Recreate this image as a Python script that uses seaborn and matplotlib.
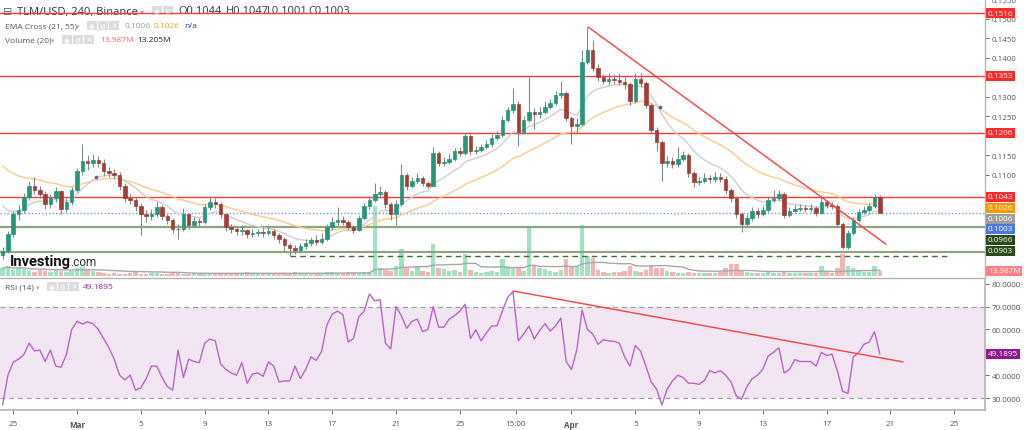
import numpy as np
import pandas as pd
import matplotlib
matplotlib.use("Agg")
import matplotlib.pyplot as plt
from matplotlib.patches import Rectangle
import seaborn as sns

W, H = 1024, 431

# ── Data: TLM/USD, resampled to 8h candles ───────────────────────────────────
first_open = 0.0895
closes = [
    0.0905, 0.0948, 0.0999, 0.1010, 0.1043, 0.1070, 0.1060, 0.1050, 0.1025, 0.1040,
    0.1058, 0.1012, 0.1030, 0.1060, 0.1110, 0.1135, 0.1130, 0.1138, 0.1130, 0.1110,
    0.1105, 0.1100, 0.1070, 0.1040, 0.1035, 0.1020, 0.0999, 0.0994, 0.1000, 0.1017,
    0.0995, 0.0985, 0.0962, 0.0960, 0.0999, 0.0970, 0.0981, 0.0978, 0.1017, 0.1030,
    0.1025, 0.0999, 0.0965, 0.0960, 0.0955, 0.0958, 0.0948, 0.0950, 0.0952, 0.0950,
    0.0955, 0.0945, 0.0935, 0.0920, 0.0912, 0.0908, 0.0918, 0.0925, 0.0932, 0.0928,
    0.0935, 0.0965, 0.0980, 0.0985, 0.0978, 0.0965, 0.0958, 0.0990, 0.1020, 0.1035,
    0.1050, 0.1055, 0.1025, 0.1000, 0.1025, 0.1100, 0.1070, 0.1085, 0.1092, 0.1078,
    0.1072, 0.1155, 0.1130, 0.1132, 0.1140, 0.1160, 0.1155, 0.1200, 0.1160, 0.1163,
    0.1170, 0.1178, 0.1195, 0.1202, 0.1240, 0.1265, 0.1282, 0.1210, 0.1240, 0.1262,
    0.1255, 0.1262, 0.1275, 0.1285, 0.1305, 0.1310, 0.1245, 0.1225, 0.1230, 0.1390,
    0.1420, 0.1375, 0.1350, 0.1340, 0.1345, 0.1342, 0.1338, 0.1332, 0.1290, 0.1345,
    0.1335, 0.1280, 0.1215, 0.1185, 0.1130, 0.1135, 0.1128, 0.1140, 0.1150, 0.1105,
    0.1082, 0.1085, 0.1092, 0.1088, 0.1095, 0.1090, 0.1060, 0.1040, 0.1000, 0.0975,
    0.0990, 0.1008, 0.1000, 0.1010, 0.1035, 0.1040, 0.1050, 0.0998, 0.1008, 0.1012,
    0.1016, 0.1013, 0.1015, 0.1002, 0.1030, 0.1022, 0.1020, 0.0975, 0.0915, 0.0950,
    0.0985, 0.1005, 0.1010, 0.1020, 0.1044, 0.1003,
]
highs = [
    0.0915, 0.0955, 0.1008, 0.1022, 0.1052, 0.1085, 0.1095, 0.1072, 0.1058, 0.1050,
    0.1068, 0.1062, 0.1040, 0.1068, 0.1118, 0.1180, 0.1150, 0.1152, 0.1148, 0.1140,
    0.1120, 0.1115, 0.1108, 0.1078, 0.1050, 0.1043, 0.1028, 0.1010, 0.1012, 0.1030,
    0.1022, 0.1000, 0.0990, 0.0975, 0.1015, 0.1002, 0.0992, 0.0990, 0.1025, 0.1045,
    0.1040, 0.1030, 0.1002, 0.0975, 0.0968, 0.0970, 0.0962, 0.0960, 0.0962, 0.0965,
    0.0968, 0.0960, 0.0950, 0.0940, 0.0925, 0.0920, 0.0925, 0.0935, 0.0940, 0.0945,
    0.0950, 0.0975, 0.0992, 0.1018, 0.0995, 0.0985, 0.0970, 0.0998, 0.1028, 0.1045,
    0.1078, 0.1070, 0.1060, 0.1030, 0.1035, 0.1128, 0.1105, 0.1095, 0.1105, 0.1098,
    0.1085, 0.1172, 0.1160, 0.1145, 0.1152, 0.1168, 0.1170, 0.1208, 0.1205, 0.1175,
    0.1180, 0.1188, 0.1205, 0.1212, 0.1250, 0.1275, 0.1322, 0.1290, 0.1250, 0.1350,
    0.1272, 0.1275, 0.1288, 0.1295, 0.1315, 0.1340, 0.1315, 0.1250, 0.1245, 0.1420,
    0.1479, 0.1445, 0.1385, 0.1358, 0.1360, 0.1358, 0.1362, 0.1350, 0.1338, 0.1360,
    0.1362, 0.1340, 0.1285, 0.1222, 0.1190, 0.1148, 0.1145, 0.1170, 0.1162, 0.1155,
    0.1110, 0.1095, 0.1105, 0.1100, 0.1108, 0.1105, 0.1098, 0.1065, 0.1045, 0.1005,
    0.1000, 0.1018, 0.1015, 0.1020, 0.1042, 0.1062, 0.1062, 0.1055, 0.1018, 0.1022,
    0.1025, 0.1022, 0.1025, 0.1020, 0.1045, 0.1035, 0.1030, 0.1025, 0.0980, 0.0958,
    0.0992, 0.1012, 0.1020, 0.1028, 0.1050, 0.1047,
]
lows = [
    0.0884, 0.0900, 0.0940, 0.0985, 0.1002, 0.1035, 0.1050, 0.1040, 0.1012, 0.1015,
    0.1030, 0.1000, 0.1005, 0.1022, 0.1055, 0.1100, 0.1112, 0.1120, 0.1120, 0.1098,
    0.1095, 0.1088, 0.1060, 0.1030, 0.1025, 0.1008, 0.0945, 0.0978, 0.0985, 0.0992,
    0.0985, 0.0975, 0.0950, 0.0936, 0.0955, 0.0960, 0.0965, 0.0968, 0.0975, 0.1010,
    0.1015, 0.0990, 0.0955, 0.0950, 0.0945, 0.0945, 0.0938, 0.0940, 0.0942, 0.0940,
    0.0945, 0.0935, 0.0925, 0.0905, 0.0892, 0.0898, 0.0900, 0.0910, 0.0918, 0.0920,
    0.0922, 0.0930, 0.0958, 0.0972, 0.0970, 0.0958, 0.0950, 0.0955, 0.0985, 0.1012,
    0.1030, 0.1040, 0.1015, 0.0985, 0.0972, 0.1020, 0.1062, 0.1065, 0.1078, 0.1070,
    0.1065, 0.1070, 0.1122, 0.1122, 0.1128, 0.1135, 0.1148, 0.1150, 0.1150, 0.1152,
    0.1158, 0.1165, 0.1172, 0.1190, 0.1198, 0.1235, 0.1258, 0.1175, 0.1205, 0.1235,
    0.1217, 0.1245, 0.1255, 0.1268, 0.1278, 0.1298, 0.1238, 0.1178, 0.1205, 0.1225,
    0.1385, 0.1365, 0.1340, 0.1332, 0.1330, 0.1332, 0.1330, 0.1320, 0.1278, 0.1285,
    0.1325, 0.1270, 0.1205, 0.1160, 0.1085, 0.1120, 0.1118, 0.1120, 0.1135, 0.1095,
    0.1069, 0.1075, 0.1080, 0.1080, 0.1082, 0.1082, 0.1050, 0.1030, 0.0990, 0.0953,
    0.0968, 0.0982, 0.0990, 0.0995, 0.1005, 0.1030, 0.1035, 0.0990, 0.0992, 0.1002,
    0.1008, 0.1005, 0.1005, 0.0995, 0.1000, 0.1015, 0.1012, 0.0968, 0.0909, 0.0910,
    0.0945, 0.0980, 0.1000, 0.1005, 0.1015, 0.1001,
]
volumes_m = [
    22, 28, 17, 25, 20, 14, 11, 17, 14, 11,
    17, 14, 11, 14, 22, 25, 17, 14, 11, 8,
    6, 9, 7, 6, 8, 10, 7, 6, 8, 9,
    6, 7, 8, 10, 7, 6, 9, 8, 6, 7,
    9, 6, 8, 7, 6, 9, 10, 8, 7, 6,
    8, 9, 7, 6, 8, 10, 9, 7, 6, 8,
    9, 10, 11, 9, 8, 10, 11, 9, 10, 11,
    196, 22, 17, 14, 28, 76, 22, 14, 28, 14,
    11, 90, 22, 20, 14, 17, 11, 62, 17, 11,
    8, 11, 14, 11, 48, 28, 22, 22, 14, 134,
    28, 22, 20, 14, 11, 17, 48, 28, 28, 143,
    56, 50, 17, 11, 8, 11, 11, 14, 28, 14,
    11, 17, 28, 22, 22, 14, 11, 8, 8, 11,
    8, 8, 8, 8, 8, 11, 22, 34, 34, 17,
    11, 8, 8, 8, 11, 8, 8, 11, 8, 8,
    8, 8, 8, 8, 28, 11, 8, 22, 62, 28,
    22, 14, 11, 11, 28, 13.987,
]
rsi_values = [
    27, 40, 45.7, 47, 49, 54, 50.6, 51, 46, 51,
    44, 43.5, 49, 60, 63.5, 62.4, 63.3, 62.5, 60, 56,
    52, 47, 40, 38, 40, 33.5, 34.5, 38.5, 44, 44,
    39, 35, 33.5, 51, 39, 47, 46, 45.5, 54, 55.8,
    55, 45, 42.5, 41, 40, 45.5, 36.5, 40.5, 41, 39.5,
    45.8, 44, 37, 37.5, 37.5, 44, 38.5, 42.5, 48, 46.5,
    50.4, 62, 66.7, 68, 66.5, 54.5, 56, 65.5, 68, 75.5,
    72.5, 73, 54, 51.5, 70, 66, 60.5, 63.5, 64.5, 59,
    60, 70, 61, 61, 64.5, 66, 68, 71, 56, 59.8,
    55, 58.5, 61.5, 61.6, 68, 74, 76.5, 55, 58, 61.5,
    55.8, 59.5, 62.5, 59.3, 61.5, 65, 46, 42.5, 51, 68.5,
    60, 58, 53.5, 55.5, 55, 54.8, 54, 48, 44, 53,
    50.5, 44, 37, 34, 27, 34, 37.5, 40, 39, 36.5,
    36.5, 36, 37.7, 42, 41, 42, 40, 37, 31, 29.5,
    35, 38.5, 40, 42.7, 48.4, 50, 52, 41, 42.5, 46.8,
    46, 46, 46, 44, 50, 48.6, 49.2, 42, 33, 32,
    48, 49.9, 53.5, 54.5, 59, 49.1895,
]

# EMA values visible at the left edge (history before the first candle)
ema21_start, ema55_start = 0.1045, 0.1140
ema_cross_days = [1.19, 17.3, 36.55]
ema_cross_prices = [0.1094, 0.0961, 0.1274]

red_levels = [0.1516, 0.1353, 0.1206, 0.1043]
green_levels = [0.0966, 0.0903]
last_price = 0.1003
support_dash = 0.0892
support_dash_days = [13.35, 54.55]

price_trend_days = [32.04, 50.72]
price_trend_values = [0.1479, 0.0922]
rsi_trend_days = [27.34, 51.79]
rsi_trend_values = [76.8, 45.8]

price_ticks = [0.110, 0.115, 0.125, 0.130, 0.140, 0.145, 0.150, 0.155]
rsi_ticks = [30, 40, 60, 70, 80]

# days counted from 1 Mar 00:00
tick_days = [-4, 0, 4, 8, 12, 16, 20, 24, 27.5, 31, 35, 39, 43, 47, 51, 55]
tick_labels = ['25', 'Mar', '5', '9', '13', '17', '21', '25', '15:00',
               'Apr', '5', '9', '13', '17', '21', '25']


def ema(values, span, start):
    s = pd.Series([start] + list(values))
    return s.ewm(span=span, adjust=False).mean().to_numpy()[1:]


n = len(closes)
days = -4.665 + np.arange(n) / 3.0
opens = np.array([first_open] + closes[:-1])
closes_a = np.array(closes)
up = closes_a >= opens

# 21/55 EMA on 4h bars ~ half the span on 8h bars
ema21 = ema(closes, 10.5, ema21_start)
ema55 = ema(closes, 27.5, ema55_start)
vol_ma = pd.Series(volumes_m).rolling(20, min_periods=1).mean()

# ── Figure ───────────────────────────────────────────────────────────────────
sns.set_theme(style='white')
plt.rcParams['font.family'] = ['Open Sans', 'DejaVu Sans']

fig = plt.figure(figsize=(W / 100, H / 100), dpi=100)
ax = fig.add_axes([0, 1 - 279 / H, 985 / W, 279 / H])
ax_vol = ax.twinx()
ax_rsi = fig.add_axes([0, 1 - 411 / H, 985 / W, 130 / H])

xlim = (-77 / 15.95, 908 / 15.95)
grey = '#555555'
spine_c = '#b4b4b4'

# volume (behind)
ax_vol.bar(days, volumes_m, width=0.28, linewidth=0,
           color=np.where(up, '#9fe3c2', '#f5b4b4'))
sns.lineplot(x=days, y=vol_ma.to_numpy(), ax=ax_vol, color='#a8a8a8', lw=1)
ax_vol.set_ylim(-5.6, 776)
ax_vol.set_yticks([])
ax_vol.set_ylabel('')
for s in ax_vol.spines.values():
    s.set_visible(False)

# horizontal levels
for lv in red_levels:
    ax.axhline(lv, color='#ff3b3b', lw=1, zorder=2)
for lv in green_levels:
    ax.axhline(lv, color='#8ea57e', lw=1.6, zorder=2)
ax.axhline(last_price, color='#7196ea', lw=1, ls=(0, (1, 1.5)), zorder=2)
ax.hlines(support_dash, *support_dash_days, color='#3f6e37', lw=1,
          linestyles=(0, (4, 3)), zorder=2)

# EMAs
sns.lineplot(x=days, y=ema55, ax=ax, color='#ffc98a', lw=1, zorder=3)
sns.lineplot(x=days, y=ema21, ax=ax, color='#cfcfcf', lw=1, zorder=3)
ax.scatter(ema_cross_days, ema_cross_prices, s=7, color='#5a5fb8', marker='o',
           zorder=4, linewidths=0)

# candles
body_c = np.where(up, '#23977a', '#a23d38')
ax.vlines(days, lows, highs, color='#7f8f88', lw=0.8, zorder=5)
ax.bar(days, np.abs(closes_a - opens), bottom=np.minimum(closes_a, opens),
       width=0.22, color=body_c, edgecolor=body_c, linewidth=0.5, zorder=6)

# price trend line
ax.plot(price_trend_days, price_trend_values, color='#ff4040', lw=1, zorder=7)

ax.set_xlim(*xlim)
ax.set_ylim(0.08353, 0.15507)
ax.set_xticks([])
ax.yaxis.tick_right()
ax.set_yticks(price_ticks)
ax.yaxis.set_major_formatter(matplotlib.ticker.FormatStrFormatter('%.4f'))
ax.tick_params(axis='y', labelsize=5.8, colors=grey, length=3, width=0.6, pad=2,
               direction='out', right=True, left=False)
for side in ['top', 'left']:
    ax.spines[side].set_visible(False)
for side in ['right', 'bottom']:
    ax.spines[side].set_color(spine_c)
    ax.spines[side].set_linewidth(1)
ax.set_zorder(2)
ax_vol.set_zorder(1)
ax.patch.set_visible(False)

# ── RSI panel ────────────────────────────────────────────────────────────────
ax_rsi.axhspan(30, 70, color='#f2e6f3', lw=0)
for lv in [30, 70]:
    ax_rsi.axhline(lv, color='#a0a0a0', lw=0.9, ls=(0, (4, 3)))
sns.lineplot(x=days, y=rsi_values, ax=ax_rsi, color='#b866c6', lw=1)
ax_rsi.plot(rsi_trend_days, rsi_trend_values, color='#ff4040', lw=1)
ax_rsi.set_xlim(*xlim)
ax_rsi.set_ylim(24.8, 81.6)
ax_rsi.yaxis.tick_right()
ax_rsi.set_yticks(rsi_ticks)
ax_rsi.yaxis.set_major_formatter(matplotlib.ticker.FormatStrFormatter('%.4f'))
ax_rsi.tick_params(axis='y', labelsize=5.8, colors=grey, length=3, width=0.6, pad=2,
                   right=True, left=False)
ax_rsi.set_xticks(tick_days)
ax_rsi.set_xticklabels(tick_labels)
ax_rsi.tick_params(axis='x', labelsize=5.8, colors=grey, length=3, width=0.6, pad=4,
                   bottom=True)
for lbl in ax_rsi.get_xticklabels():
    if lbl.get_text() in ('Mar', 'Apr'):
        lbl.set_fontweight('bold')
for side in ['top', 'left']:
    ax_rsi.spines[side].set_visible(False)
for side in ['right', 'bottom']:
    ax_rsi.spines[side].set_color(spine_c)
    ax_rsi.spines[side].set_linewidth(1.2)


# ── Text overlays (pixel positions) ──────────────────────────────────────────
def ptext(x, y, s, **kw):
    kw.setdefault('va', 'center')
    kw.setdefault('ha', 'left')
    return ax.text(x / W, 1 - y / H, s, transform=fig.transFigure,
                   clip_on=False, **kw)


def icons(x0, y0, count):
    glyphs = ['◉', '⚙', '✕']
    for k in range(count):
        x = x0 + k * 11
        fig.patches.append(Rectangle((x / W, 1 - (y0 + 9) / H), 9.5 / W, 9 / H,
                                     transform=fig.transFigure, fc='#dcdcdc',
                                     ec='none', zorder=1))
        fig.text((x + 4.8) / W, 1 - (y0 + 4.7) / H, glyphs[k],
                 fontsize=4.8, color='white', ha='center', va='center',
                 family='DejaVu Sans')


ptext(3, 12, '⊟', fontsize=8, color='#666666', family='DejaVu Sans', zorder=1)
ptext(17, 12, 'TLM/USD, 240, Binance', fontsize=8, color='#333333', zorder=1)
ptext(140, 12, '▾', fontsize=6, color='#b0b0b0', family='DejaVu Sans', zorder=1)
icons(152, 7, 2)
for x, s in [(178, 'O0.1044'), (226, 'H0.1047'), (267, 'L0.1001'), (308, 'C0.1003')]:
    ptext(x, 12, s, fontsize=8, color='#3a3a3a', zorder=1)

ptext(5, 27, 'EMA Cross (21, 55)', fontsize=6, color='#555555')
ptext(76, 27, '▾', fontsize=5, color='#b0b0b0', family='DejaVu Sans')
icons(87, 22, 3)
ptext(125, 27, '0.1006', fontsize=6, color='#9a9a9a')
ptext(154, 27, '0.1026', fontsize=6, color='#f5a020')
ptext(184, 27, 'n/a', fontsize=6, color='#283593')

ptext(5, 41, 'Volume (20)', fontsize=6, color='#555555')
ptext(51, 41, '▾', fontsize=5, color='#b0b0b0', family='DejaVu Sans')
icons(62, 36, 3)
ptext(100, 41, '13.987M', fontsize=6, color='#f06a6a')
ptext(137, 41, '13.205M', fontsize=6, color='#222222')

ptext(5, 288, 'RSI (14)', fontsize=6, color='#555555')
ptext(36, 288, '▾', fontsize=5, color='#b0b0b0', family='DejaVu Sans')
icons(47, 283, 3)
ptext(83, 288, '49.1895', fontsize=6, color='#9c27b0')

ptext(10, 262, 'Investing', fontsize=10.5, fontweight='bold', color='#111111',
      family='Roboto', zorder=8)
ptext(70, 263, '.com', fontsize=8.5, color='#333333', family='Roboto', zorder=8)

# right-hand price badges
badges = [('0.1516', '#ff2a2a', 14), ('0.1353', '#ff2a2a', 77),
          ('0.1206', '#ff2a2a', 134), ('0.1043', '#ff2a2a', 198),
          ('0.1026', '#ff9800', 209), ('0.1006', '#9e9e9e', 220),
          ('0.1003', '#4a78e0', 230), ('0.0966', '#2b4a1c', 241),
          ('0.0903', '#2b4a1c', 252), ('13.987M', '#ff8080', 272),
          ('49.1895', '#8e1a8e', 355)]
for s, c, y in badges:
    fig.text(988 / W, 1 - y / H, s, fontsize=5.9, color='white', va='center',
             ha='left', bbox=dict(boxstyle='square,pad=0.22', fc=c, ec='none'))

fig.savefig('out.png', dpi=100)
